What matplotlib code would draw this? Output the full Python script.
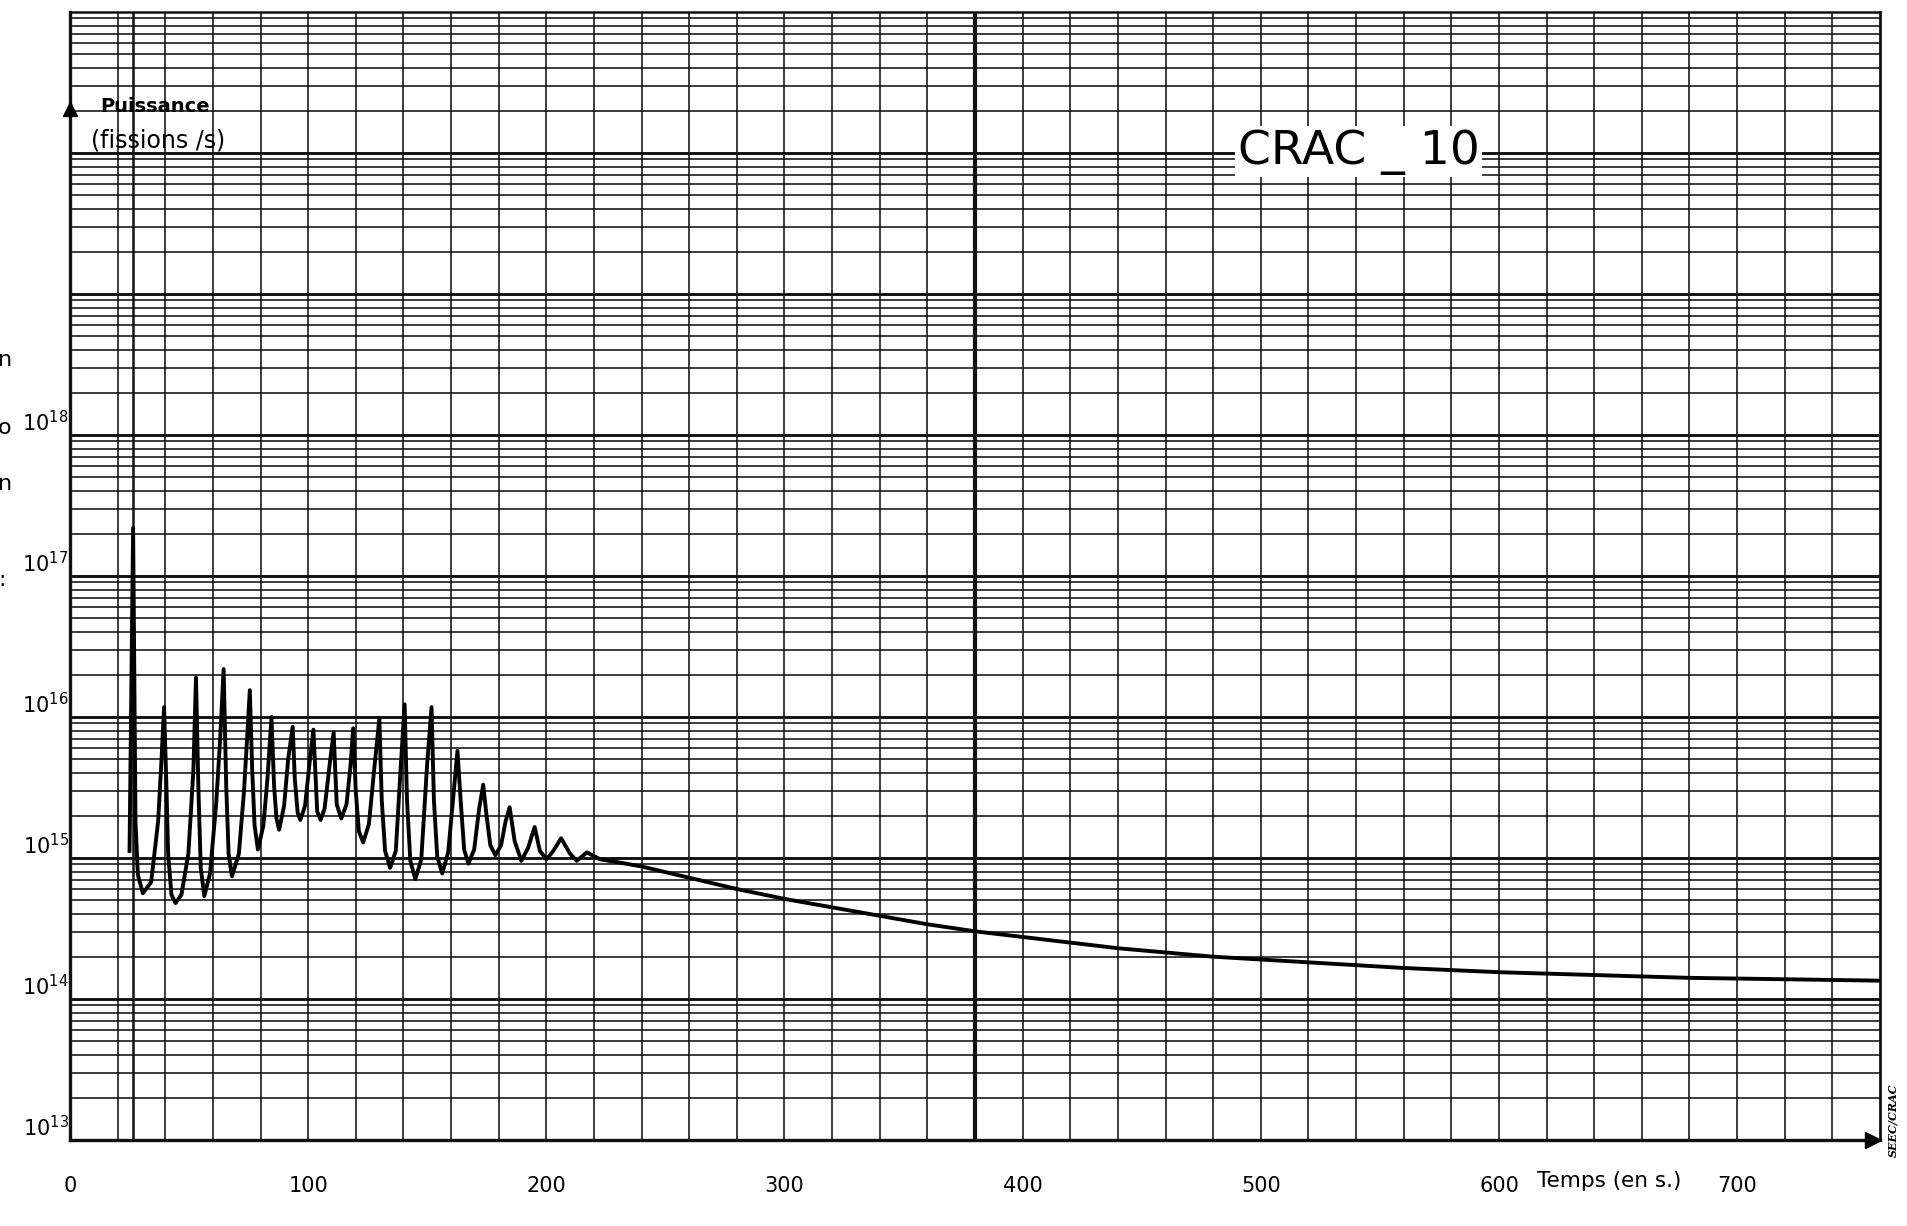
"""
CRAC-10 : puissance (fissions/s) en fonction du temps, papier semi-log
"""
import matplotlib
matplotlib.use('Agg')
import numpy as np
import matplotlib.pyplot as plt

# relevé de la courbe : temps (s) et log10 de la puissance
# phase oscillante (pics / creux)
t_osc = [25.0, 26.5, 27.5, 28.5, 30.6, 34.1, 37.0, 38.4,
         39.5, 40.5, 41.2, 42.6, 44.3, 46.8, 49.7, 51.8,
         52.9, 53.9, 54.9, 56.4, 58.8, 61.4, 63.1,
         64.5, 65.6, 66.6, 68.0, 70.9, 73.0, 74.4,
         75.5, 76.5, 77.5, 78.9, 81.2, 82.9,
         84.6, 85.7, 86.7, 87.8, 89.9, 91.6,
         93.5, 94.4, 95.6, 96.7, 98.7, 100.5,
         102.2, 103.8, 105.2, 106.9, 109.0,
         110.7, 112.0, 113.9, 116.1, 117.8,
         118.9, 120.0, 121.3, 123.1, 125.5, 127.8,
         129.9, 130.9, 132.3, 134.4, 136.8, 138.6,
         140.5, 141.5, 142.9, 145.0, 147.5, 149.9,
         151.8, 152.8, 154.2, 156.3, 158.8, 160.8,
         162.7, 164.1, 165.5, 167.3, 169.7, 171.8,
         173.5, 174.9, 176.5, 178.6, 181.0, 182.9,
         184.6, 186.7, 189.5, 192.3,
         195.1, 197.3, 200.1, 202.9,
         206.2, 210.0, 212.8,
         217.0, 222.7]
logp_osc = [15.05, 17.34, 15.26, 14.88, 14.75, 14.83, 15.26, 15.69,
            16.07, 15.50, 15.03, 14.74, 14.68, 14.74, 15.03, 15.62,
            16.28, 15.50, 14.93, 14.73, 14.89, 15.39, 15.86,
            16.34, 15.51, 15.03, 14.87, 15.03, 15.46, 15.86,
            16.19, 15.63, 15.23, 15.06, 15.23, 15.56,
            16.00, 15.51, 15.28, 15.20, 15.37, 15.70,
            15.93, 15.56, 15.32, 15.27, 15.37, 15.66,
            15.91, 15.33, 15.27, 15.35, 15.66,
            15.89, 15.38, 15.28, 15.38, 15.66,
            15.92, 15.47, 15.19, 15.11, 15.24, 15.64,
            15.99, 15.41, 15.05, 14.93, 15.05, 15.57,
            16.09, 15.41, 14.98, 14.85, 14.99, 15.65,
            16.07, 15.41, 15.01, 14.89, 15.04, 15.41,
            15.76, 15.39, 15.06, 14.96, 15.06, 15.35,
            15.52, 15.30, 15.09, 15.02, 15.09, 15.26,
            15.36, 15.12, 14.98, 15.07,
            15.22, 15.05, 14.99, 15.05,
            15.14, 15.03, 14.98,
            15.04, 14.99]

# décroissance lente
t_tail = [230, 240, 260, 280, 300, 320, 340, 360, 380, 400, 420, 440, 460,
          480, 500, 520, 540, 560, 580, 600, 620, 640, 660, 680, 700, 720,
          740, 760]
logp_tail = [14.97, 14.94, 14.86, 14.78, 14.71, 14.65, 14.59, 14.53, 14.48,
             14.44, 14.40, 14.36, 14.33, 14.30, 14.28, 14.26, 14.24, 14.22,
             14.205, 14.19, 14.18, 14.17, 14.16, 14.15, 14.145, 14.14,
             14.135, 14.13]

x_labels = [0, 100, 200, 300, 400, 500, 600, 700]
y_decades = [13, 14, 15, 16, 17, 18]

t = np.array(t_osc + t_tail)
P = 10.0 ** np.array(logp_osc + logp_tail)

W, H = 1907, 1226
fig = plt.figure(figsize=(W / 100, H / 100), dpi=100)
x0, x1, y0, y1 = 70, 1880, 1140, 12  # cadre du papier en pixels
ax = fig.add_axes([x0 / W, 1 - y0 / H, (x1 - x0) / W, (y0 - y1) / H])
ax.set_yscale('log')
ax.set_xlim(0, 760)
ax.set_ylim(1e13, 1e21)
ax.set_xticks([])
ax.set_yticks([])
ax.yaxis.set_minor_locator(matplotlib.ticker.NullLocator())

ink = '#111111'
# quadrillage du papier
for n in range(13, 21):
    for k in range(1, 10):
        if n == 13 and k == 1:
            continue
        ax.axhline(k * 10.0 ** n, color=ink, lw=2.1 if k == 1 else 1.15, zorder=1)
for xv in range(20, 760, 20):
    ax.axvline(xv, color=ink, lw=3.0 if xv == 380 else 1.15, zorder=1)
ax.axvline(26.5, color=ink, lw=1.8, zorder=1)

for side, lw in [('left', 2.4), ('bottom', 2.4), ('top', 1.8), ('right', 2.0)]:
    ax.spines[side].set_linewidth(lw)
    ax.spines[side].set_color(ink)

# courbe
ax.plot(t, P, color='black', lw=2.8, solid_joinstyle='round', zorder=3)

# flèches des axes
ax.plot([0], [10 ** 20.31], marker='^', color='black', ms=10, clip_on=False, zorder=4)
ax.plot([757], [1e13], marker='>', color='black', ms=11, clip_on=False, zorder=4)

# graduations
for d in y_decades:
    ax.annotate(r'$10^{%d}$' % d, xy=(0, 10.0 ** d), xytext=(-1, 0),
                textcoords='offset points', ha='right', va='bottom', fontsize=15)
xt = ax.get_xaxis_transform()
for xv in x_labels:
    ax.text(xv, -0.041, str(xv), transform=xt, ha='center', va='center', fontsize=15)

ax.text(616, -0.036, 'Temps (en s.)', transform=xt, ha='left', va='center', fontsize=15.5)
ax.text(0.0166, 0.916, 'Puissance', transform=ax.transAxes, ha='left', va='center',
        fontsize=14, weight='bold')
ax.text(0.0116, 0.8865, '(fissions /s)', transform=ax.transAxes, ha='left', va='center',
        fontsize=17)

ax.text(0.712, 0.876, 'CRAC _ 10', transform=ax.transAxes, ha='center', va='center',
        fontsize=34, zorder=5,
        bbox=dict(facecolor='white', edgecolor='none', pad=2))

fig.text(1893 / W, 1 - 1120 / H, 'SEEC/CRAC', rotation=90, ha='center', va='center',
         fontsize=8, family='DejaVu Serif', style='italic', weight='bold')

# bords de la page voisine sur la marge gauche
for ch, yp in [('n', 360), ('o', 428), ('n', 484), (':', 580)]:
    fig.text(-2 / W, 1 - yp / H, ch, ha='left', va='center', fontsize=16)

fig.savefig('out.png', dpi=100, facecolor='white')
